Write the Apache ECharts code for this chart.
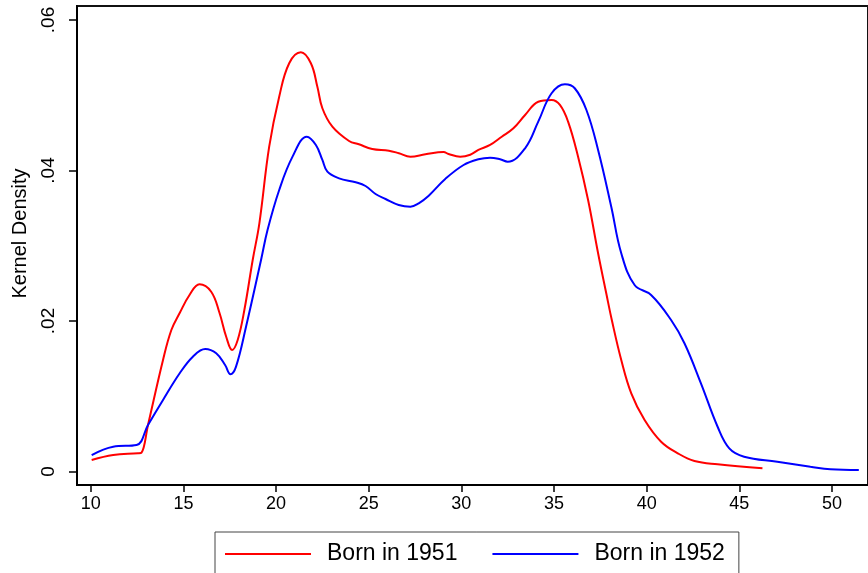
<!DOCTYPE html>
<html>
<head>
<meta charset="utf-8">
<script src="https://cdn.jsdelivr.net/npm/echarts@6/dist/echarts.min.js"></script>
<style>html,body{margin:0;padding:0;background:#fff}#c{width:868px;height:573px}</style>
</head>
<body>
<div id="c"></div>
<script>
// Born in 1951 (x = age, y = kernel density)
const red1951X = [10.05,11.21,12.55,12.74,13.09,13.90,14.35,14.80,15.33,15.87,16.50,16.95,17.31,17.63,17.93,18.29,18.74,19.10,19.63,20.17,20.71,21.34,21.88,22.23,22.50,23.04,23.94,24.47,25.19,26.09,26.63,27.25,28.06,29.04,29.31,29.94,30.48,30.92,31.55,32.18,32.81,33.44,34.15,34.87,35.32,35.76,36.30,36.84,37.38,37.82,38.12,38.63,39.17,39.89,40.78,41.68,42.58,43.83,46.25];
const red1951Y = [0.00153,0.00219,0.00242,0.0025,0.00618,0.01482,0.0188,0.02106,0.02346,0.02488,0.02389,0.02106,0.01791,0.01615,0.01747,0.02146,0.02811,0.03298,0.04316,0.04981,0.05425,0.05571,0.05425,0.05114,0.04827,0.04582,0.04392,0.04348,0.04286,0.04263,0.04229,0.04184,0.04215,0.04246,0.04219,0.04184,0.0421,0.04273,0.04339,0.04449,0.04561,0.04738,0.04914,0.04937,0.04871,0.04649,0.04184,0.03608,0.029,0.02368,0.02013,0.01482,0.01039,0.00684,0.00396,0.00242,0.0014,0.00096,0.00043];
// Born in 1952
const blue1952X = [10.05,11.21,12.47,13.09,13.90,14.80,15.51,16.18,16.77,17.25,17.54,17.84,18.38,19.19,19.54,20.17,20.89,21.66,22.15,22.50,22.77,23.40,24.30,24.83,25.37,25.91,26.62,27.25,27.70,28.24,29.13,30.12,30.92,31.55,32.09,32.50,33.44,34.15,34.87,35.59,36.12,36.75,37.38,38.09,38.63,39.35,40.24,41.32,42.04,42.93,43.83,44.46,45.26,47.05,48.84,49.92,51.45];
const blue1952Y = [0.00219,0.0033,0.00352,0.00618,0.0095,0.01305,0.01526,0.01628,0.01571,0.01415,0.01292,0.01393,0.01924,0.02811,0.03209,0.03741,0.04184,0.04449,0.04339,0.0414,0.03984,0.03896,0.03843,0.03794,0.03688,0.03621,0.03542,0.03519,0.03564,0.03665,0.03887,0.04073,0.04149,0.0417,0.04149,0.04117,0.04295,0.04649,0.05026,0.05146,0.05093,0.04804,0.04273,0.03519,0.029,0.02478,0.02346,0.02013,0.01704,0.01172,0.00595,0.00308,0.00197,0.0013,0.00064,0.00029,0.0002];
const xTicks = [10,15,20,25,30,35,40,45,50];
const yTicks = [0,0.02,0.04,0.06];
const seriesNames = ['Born in 1951','Born in 1952'];
const yTitle = 'Kernel Density';

const FONT = "'Liberation Sans', Arial, Helvetica, sans-serif";
const zip = (a,b) => a.map((v,i)=>[v,b[i]]);

const chart = echarts.init(document.getElementById('c'), null, {renderer:'canvas'});
chart.setOption({
  animation:false,
  backgroundColor:'#fff',
  textStyle:{fontFamily:FONT},
  grid:{left:77,right:-3,top:6,bottom:88,show:true,borderColor:'#111',borderWidth:2,backgroundColor:'#fff'},
  xAxis:{
    type:'value', min:9.258, max:51.946,
    axisLine:{show:true,onZero:false,lineStyle:{color:'#000',width:2}},
    axisTick:{show:true,length:7,lineStyle:{color:'#000',width:1.5},customValues:xTicks},
    axisLabel:{show:true,customValues:xTicks,color:'#000',fontSize:18,fontFamily:FONT,margin:10},
    splitLine:{show:false}
  },
  yAxis:{
    type:'value', min:-0.001794, max:0.06186,
    name:yTitle, nameLocation:'middle', nameGap:47,
    nameTextStyle:{color:'#000',fontSize:20,fontFamily:FONT,padding:[0,0,0,24]},
    axisLine:{show:true,onZero:false,lineStyle:{color:'#000',width:2}},
    axisTick:{show:true,length:8,lineStyle:{color:'#000',width:1.5},customValues:yTicks},
    axisLabel:{show:true,customValues:yTicks,rotate:90,color:'#000',fontSize:19,fontFamily:FONT,margin:19,
      formatter:v=> v===0 ? '0' : String(+v.toFixed(4)).replace(/^0/,'')},
    splitLine:{show:false}
  },
  legend:{
    data:seriesNames, left:215, top:532, orient:'horizontal',
    padding:[10,14,30,10], itemGap:35, itemWidth:86, itemHeight:2, icon:'rect',
    borderColor:'#444', borderWidth:1, backgroundColor:'#fff',
    textStyle:{color:'#000',fontSize:23,fontFamily:FONT,lineHeight:24,padding:[0,0,0,11]}
  },
  series:[
    {name:seriesNames[0],type:'line',data:zip(red1951X,red1951Y),smooth:0.4,showSymbol:false,symbol:'none',
     lineStyle:{color:'#ff0000',width:2},itemStyle:{color:'#ff0000'}},
    {name:seriesNames[1],type:'line',data:zip(blue1952X,blue1952Y),smooth:0.4,showSymbol:false,symbol:'none',
     lineStyle:{color:'#0000ff',width:2},itemStyle:{color:'#0000ff'}}
  ]
});
</script>
</body>
</html>
